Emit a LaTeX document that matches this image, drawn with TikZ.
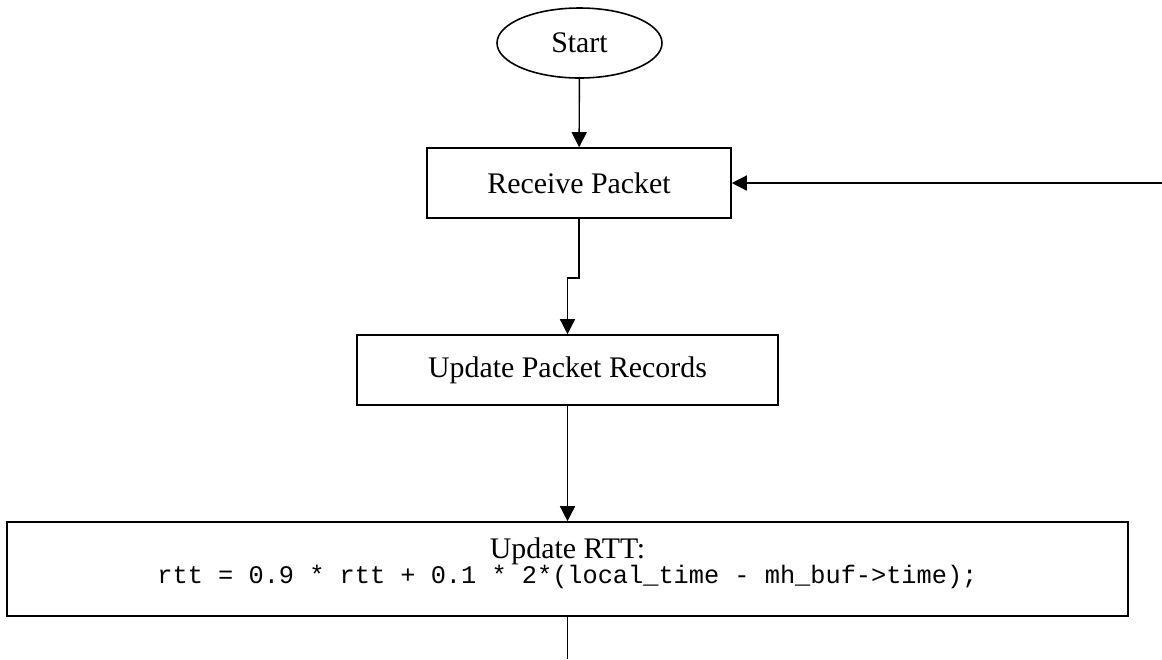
\documentclass[tikz,border=0pt]{standalone}
\usepackage{fontspec}
\setmainfont{Liberation Serif}
\setmonofont{Liberation Mono}
\usepackage{tikz}
\usetikzlibrary{calc,positioning,arrows.meta,shapes.geometric}

\tikzset{
  stepbox/.style={draw,line width=0.9pt,rectangle,minimum height=1.4cm,inner sep=0pt},
  flow/.style={line width=0.8pt,-{Triangle[length=0.3cm,width=0.3cm]}}
}

\begin{document}
\begin{tikzpicture}[font=\fontsize{17}{20}\selectfont]
\useasboundingbox (0,0) rectangle (23.24,-13.18);

\node[draw,line width=0.9pt,ellipse,minimum width=3.3cm,minimum height=1.4cm,inner sep=0pt] (start) at (11.59,-0.86) {Start};
\node[stepbox,minimum width=6.08cm] (recv) at (11.58,-3.66) {Receive Packet};
\node[stepbox,minimum width=8.42cm] (rec) at (11.35,-7.4) {Update Packet Records};
\node[stepbox,minimum width=22.42cm,minimum height=1.88cm] (rtt) at (11.35,-11.38)
  {\raisebox{0.33cm}{\shortstack{Update RTT:\\[-2.5pt]{\ttfamily\fontsize{14.4}{16}\selectfont rtt = 0.9 * rtt + 0.1 * 2*(local\_time - mh\_buf->time);}}}};

\coordinate (back) at (23.24,-3.66); % loop back from the right
\coordinate (out) at (11.35,-13.18);

%\draw (start) -- (recv);
\draw[flow] (start) -- (recv);
\draw[flow] (back) -- (recv.east);
\draw[flow] (recv.south) -- ++(0,-1.18) -| (rec.north);
\draw[flow] (rec) -- (rtt);
\draw[line width=0.8pt] (rtt.south) -- (out);
\end{tikzpicture}
\end{document}
